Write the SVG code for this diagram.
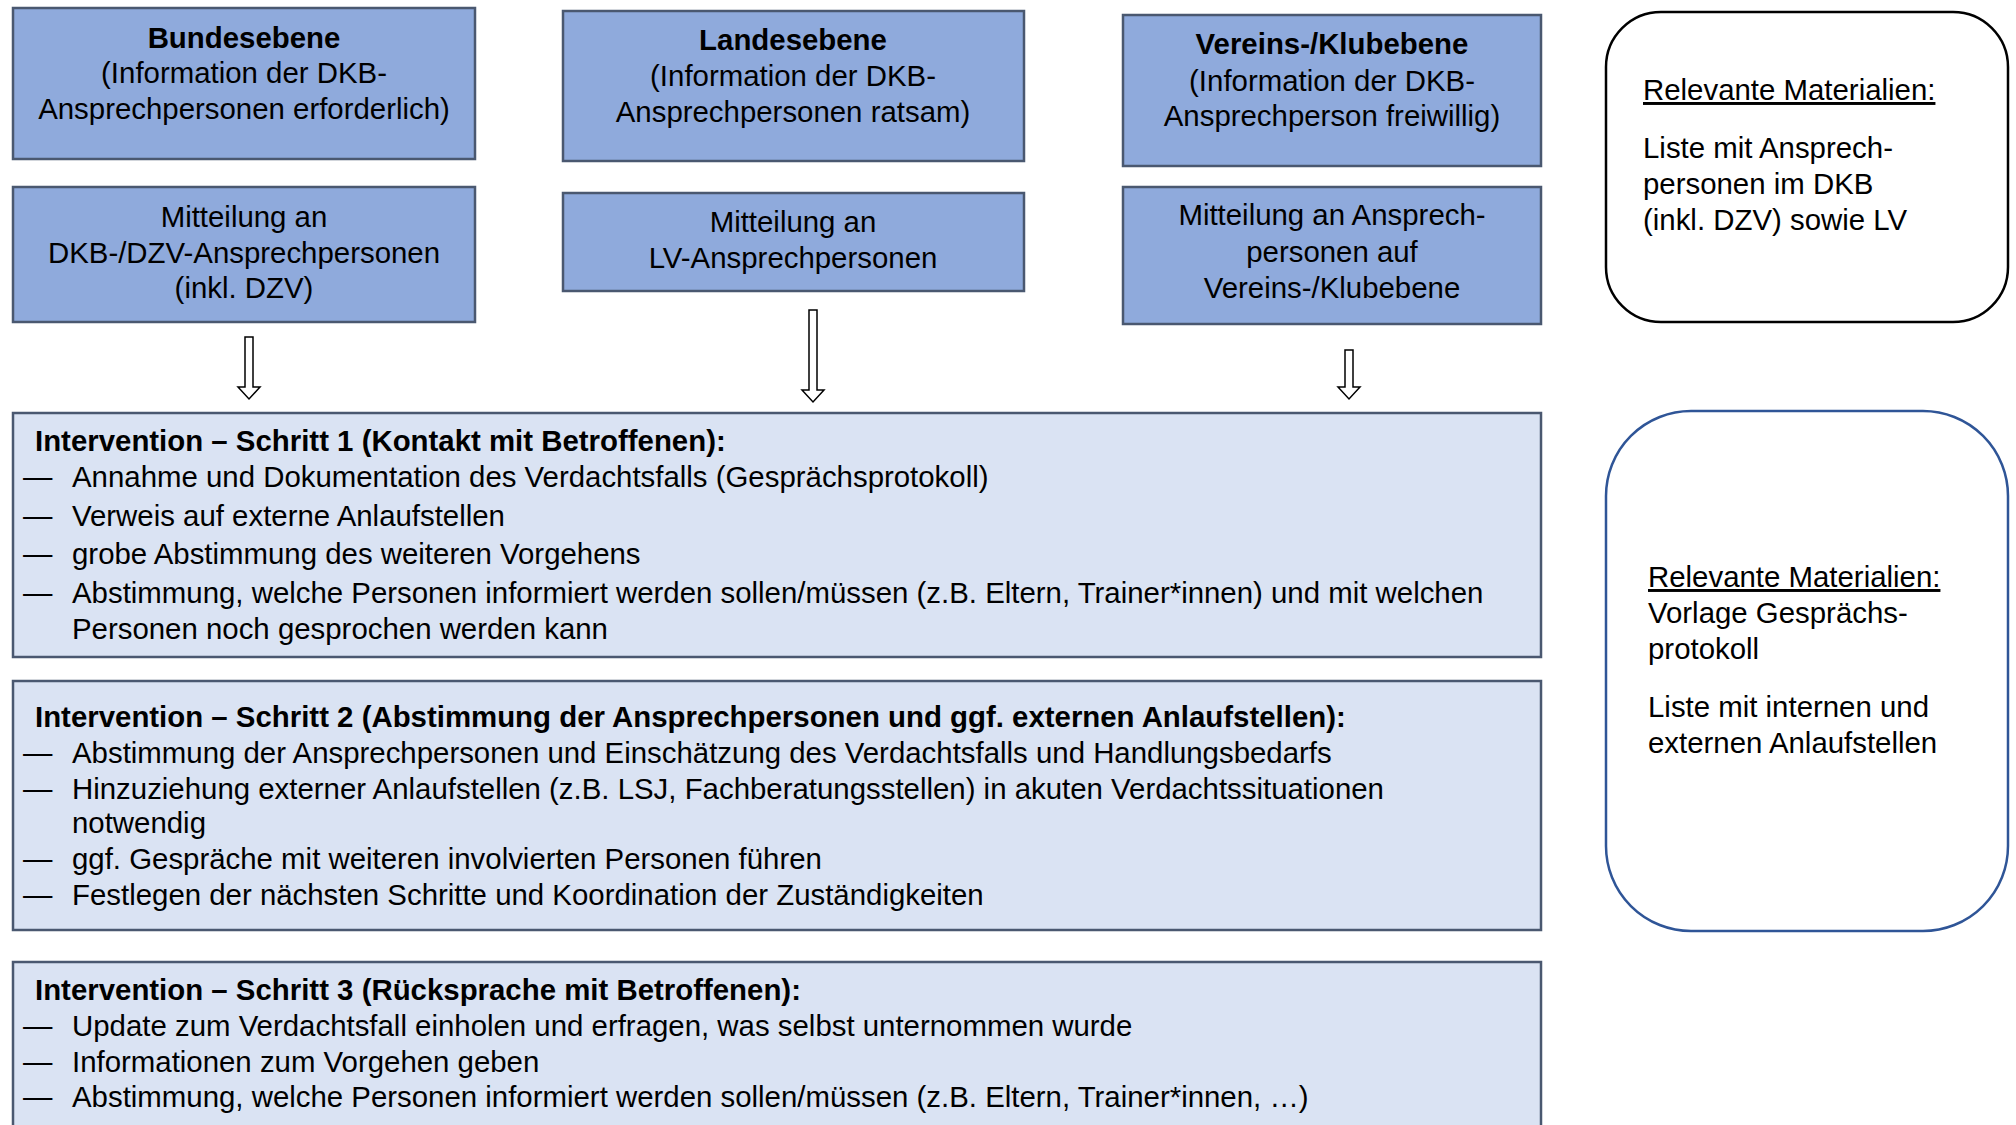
<svg xmlns="http://www.w3.org/2000/svg" width="2016" height="1125" viewBox="0 0 2016 1125">
<style>
text{font-family:"Liberation Sans",Arial,sans-serif;font-size:29.4px;fill:#000}
.c{text-anchor:middle}
.b{font-weight:bold}
.lvl{fill:#8FAADC;stroke:#4A5870;stroke-width:2.5}
.step{fill:#DAE3F3;stroke:#4A5870;stroke-width:2.5}
.arr{fill:#fff;stroke:#000;stroke-width:1.5}
.u{text-decoration:underline}
</style>
<rect width="2016" height="1125" fill="#fff"/>
<g id="bund-top"><rect class="lvl" x="13" y="8" width="462" height="151"/>
<text class="c b" x="244" y="48">Bundesebene</text>
<text class="c" x="244" y="83">(Information der DKB-</text>
<text class="c" x="244" y="119">Ansprechpersonen erforderlich)</text></g>
<g id="bund-bottom"><rect class="lvl" x="13" y="187" width="462" height="135"/>
<text class="c" x="244" y="227">Mitteilung an</text>
<text class="c" x="244" y="263">DKB-/DZV-Ansprechpersonen</text>
<text class="c" x="244" y="298">(inkl. DZV)</text></g>
<g id="landes-top"><rect class="lvl" x="563" y="11" width="461" height="150"/>
<text class="c b" x="793" y="50">Landesebene</text>
<text class="c" x="793" y="86">(Information der DKB-</text>
<text class="c" x="793" y="122">Ansprechpersonen ratsam)</text></g>
<g id="landes-bottom"><rect class="lvl" x="563" y="193" width="461" height="98"/>
<text class="c" x="793" y="232">Mitteilung an</text>
<text class="c" x="793" y="268">LV-Ansprechpersonen</text></g>
<g id="vereins-top"><rect class="lvl" x="1123" y="15" width="418" height="151"/>
<text class="c b" x="1332" y="54">Vereins-/Klubebene</text>
<text class="c" x="1332" y="91">(Information der DKB-</text>
<text class="c" x="1332" y="126">Ansprechperson freiwillig)</text></g>
<g id="vereins-bottom"><rect class="lvl" x="1123" y="187" width="418" height="137"/>
<text class="c" x="1332" y="225">Mitteilung an Ansprech-</text>
<text class="c" x="1332" y="262">personen auf</text>
<text class="c" x="1332" y="298">Vereins-/Klubebene</text></g>
<g id="connectors">
<path class="arr" d="M245,337 h8 v50 h7 l-11,12 l-11,-12 h7 z"/>
<path class="arr" d="M809,310 h8 v80 h7 l-11,12 l-11,-12 h7 z"/>
<path class="arr" d="M1345,350 h8 v37 h7 l-11,12 l-11,-12 h7 z"/>
</g>
<g id="step1"><rect class="step" x="13" y="413" width="1528" height="244"/>
<text class="b" x="35" y="451">Intervention – Schritt 1 (Kontakt mit Betroffenen):</text>
<text x="23" y="487">—</text><text x="72" y="487">Annahme und Dokumentation des Verdachtsfalls (Gesprächsprotokoll)</text>
<text x="23" y="526">—</text><text x="72" y="526">Verweis auf externe Anlaufstellen</text>
<text x="23" y="564">—</text><text x="72" y="564">grobe Abstimmung des weiteren Vorgehens</text>
<text x="23" y="603">—</text><text x="72" y="603">Abstimmung, welche Personen informiert werden sollen/müssen (z.B. Eltern, Trainer*innen) und mit welchen</text>
<text x="72" y="639">Personen noch gesprochen werden kann</text></g>
<g id="step2"><rect class="step" x="13" y="681" width="1528" height="249"/>
<text class="b" x="35" y="727">Intervention – Schritt 2 (Abstimmung der Ansprechpersonen und ggf. externen Anlaufstellen):</text>
<text x="23" y="763">—</text><text x="72" y="763">Abstimmung der Ansprechpersonen und Einschätzung des Verdachtsfalls und Handlungsbedarfs</text>
<text x="23" y="799">—</text><text x="72" y="799">Hinzuziehung externer Anlaufstellen (z.B. LSJ, Fachberatungsstellen) in akuten Verdachtssituationen</text>
<text x="72" y="833">notwendig</text>
<text x="23" y="869">—</text><text x="72" y="869">ggf. Gespräche mit weiteren involvierten Personen führen</text>
<text x="23" y="905">—</text><text x="72" y="905">Festlegen der nächsten Schritte und Koordination der Zuständigkeiten</text></g>
<g id="step3"><rect class="step" x="13" y="962" width="1528" height="180"/>
<text class="b" x="35" y="1000">Intervention – Schritt 3 (Rücksprache mit Betroffenen):</text>
<text x="23" y="1036">—</text><text x="72" y="1036">Update zum Verdachtsfall einholen und erfragen, was selbst unternommen wurde</text>
<text x="23" y="1072">—</text><text x="72" y="1072">Informationen zum Vorgehen geben</text>
<text x="23" y="1107">—</text><text x="72" y="1107">Abstimmung, welche Personen informiert werden sollen/müssen (z.B. Eltern, Trainer*innen, …)</text></g>
<g id="material-1"><rect x="1606" y="12" width="402" height="310" rx="55" ry="55" fill="#fff" stroke="#000" stroke-width="2.5"/>
<text class="u" x="1643" y="100">Relevante Materialien:</text>
<text x="1643" y="158">Liste mit Ansprech-</text>
<text x="1643" y="194">personen im DKB</text>
<text x="1643" y="230">(inkl. DZV) sowie LV</text></g>
<g id="material-2"><rect x="1606" y="411" width="402" height="520" rx="85" ry="85" fill="#fff" stroke="#2F5597" stroke-width="2.5"/>
<text class="u" x="1648" y="587">Relevante Materialien:</text>
<text x="1648" y="623">Vorlage Gesprächs-</text>
<text x="1648" y="659">protokoll</text>
<text x="1648" y="717">Liste mit internen und</text>
<text x="1648" y="753">externen Anlaufstellen</text></g>
</svg>
